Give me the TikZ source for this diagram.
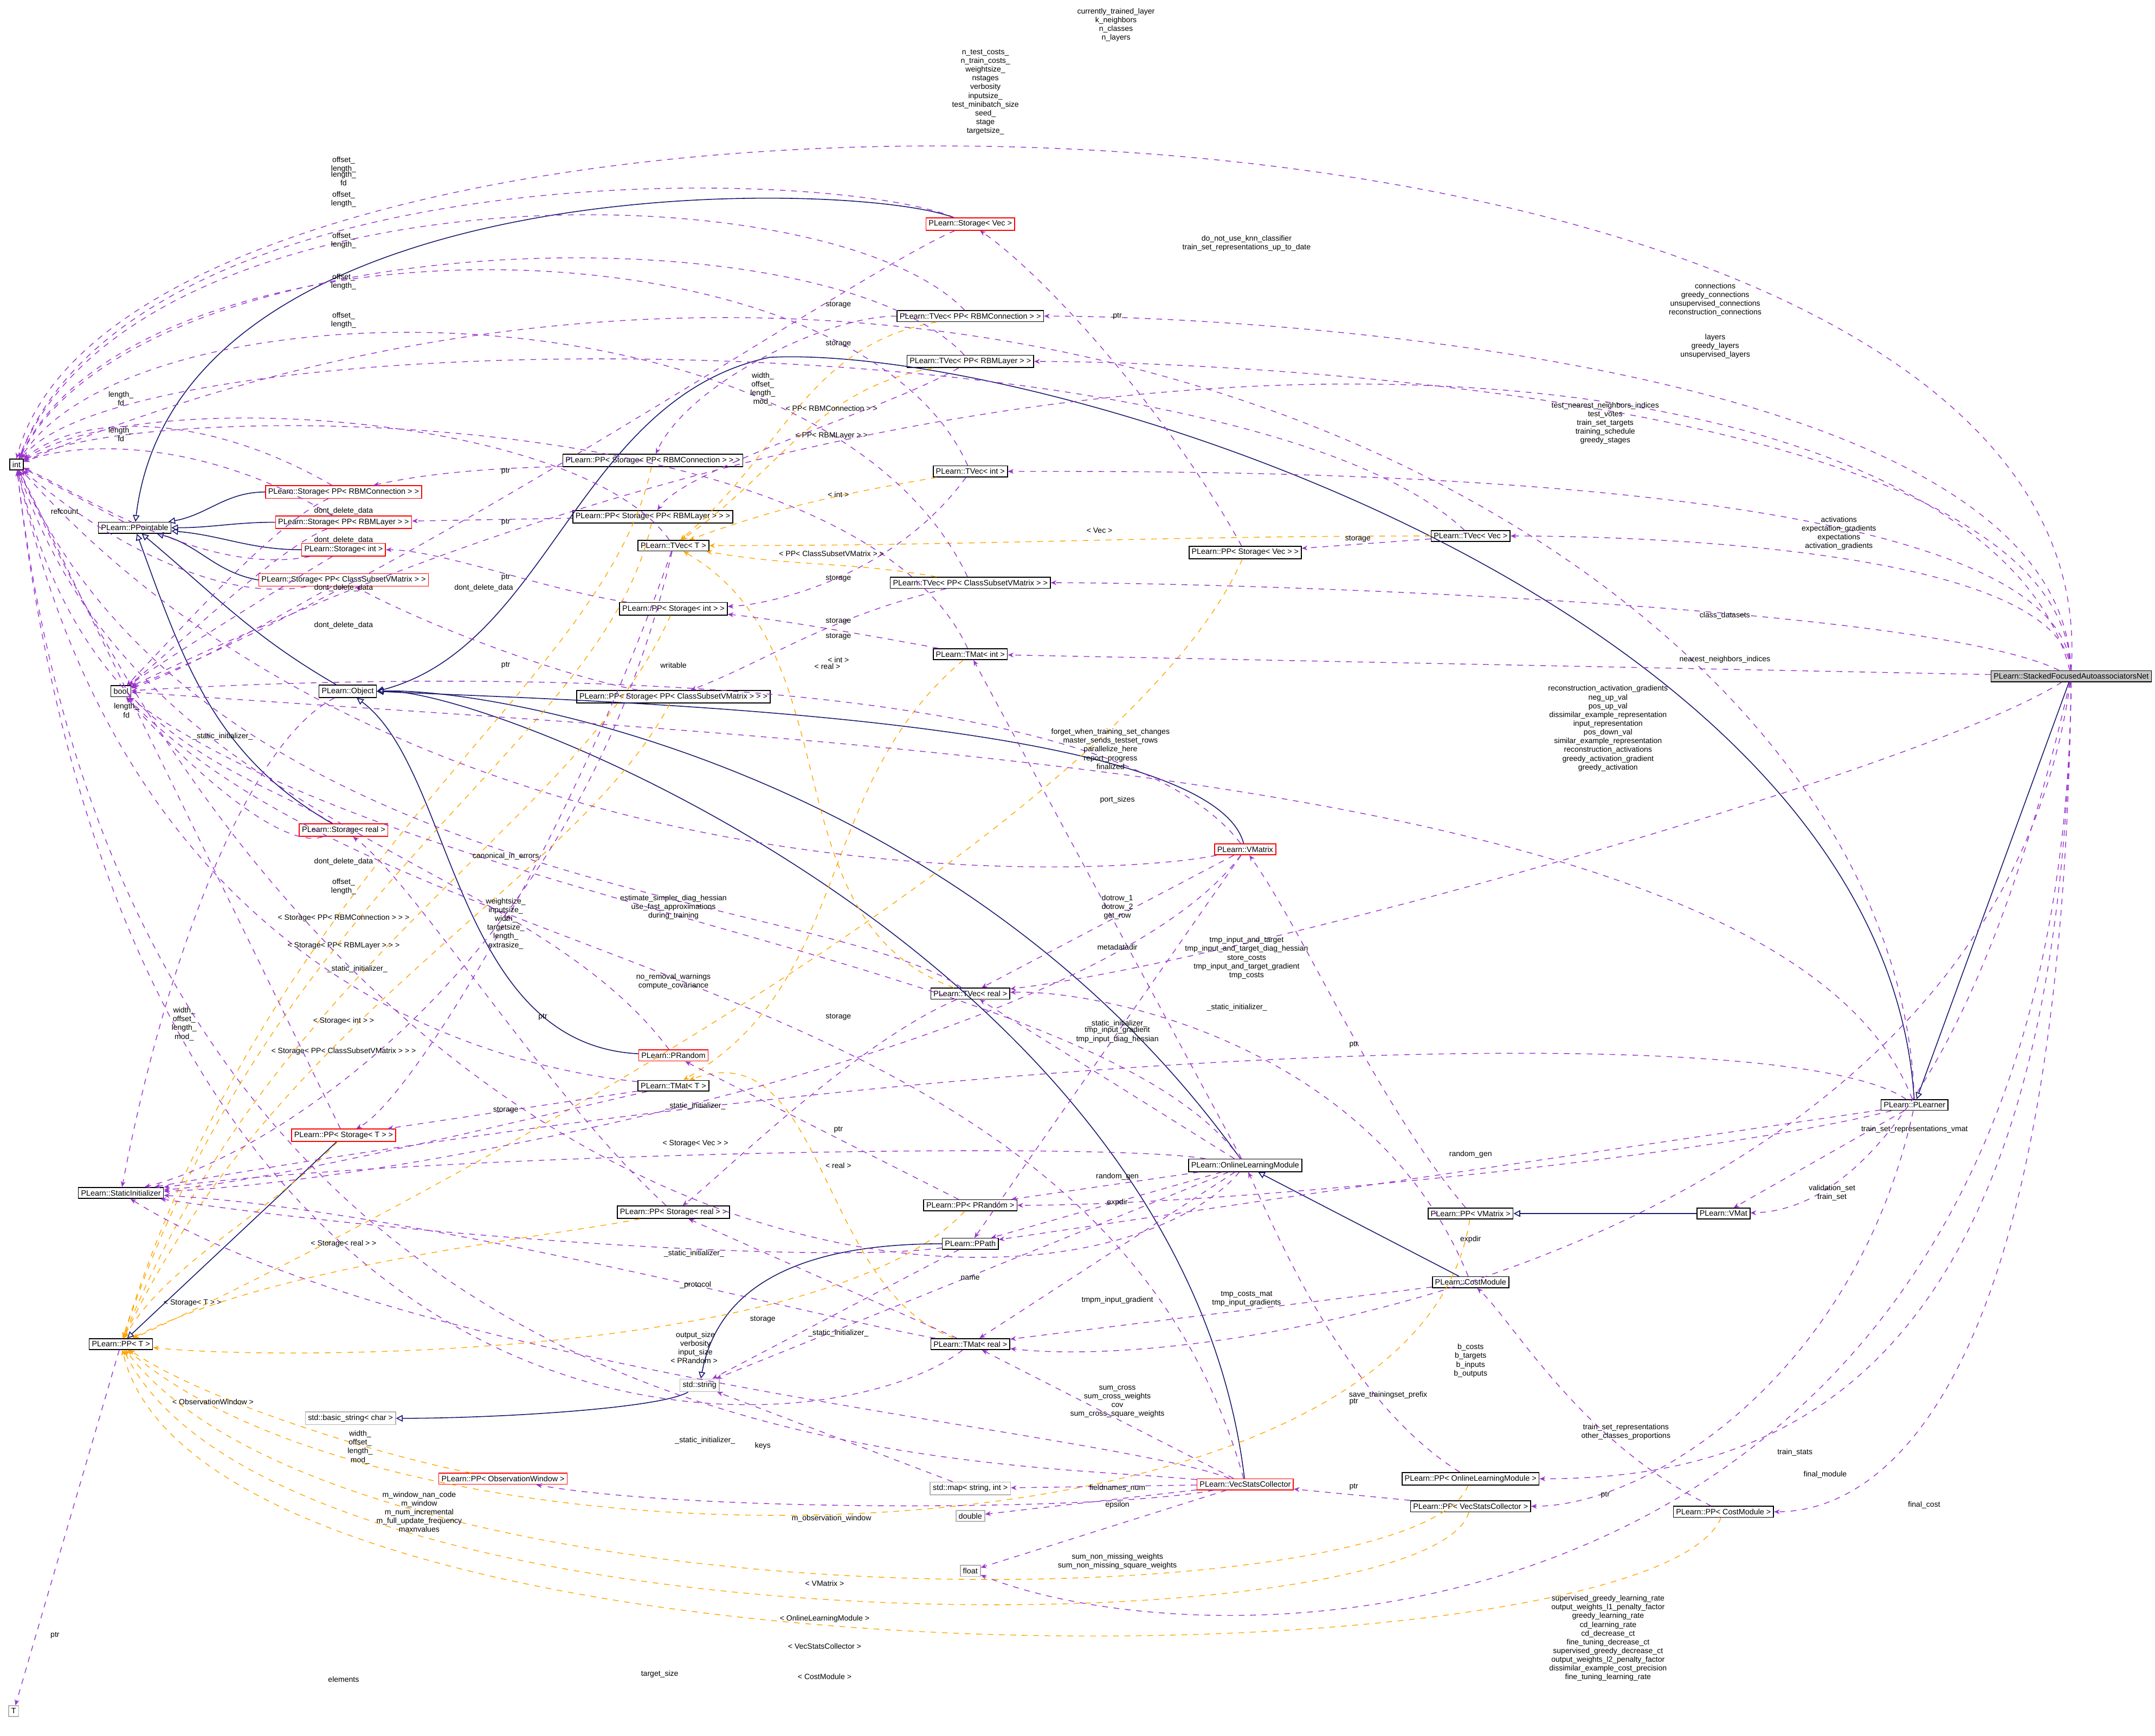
\documentclass[tikz,border=0pt]{standalone}
\usepackage{fontspec}
\setmainfont{Liberation Sans}
\usetikzlibrary{arrows.meta}
\definecolor{pu}{HTML}{9A32CD}
\definecolor{orr}{HTML}{FFA500}
\definecolor{bl}{HTML}{191970}
\newcounter{lc}
\newcommand\LB[2]{\stepcounter{lc}\node[lab] (lab\arabic{lc}) at (#1) {#2};}
\begin{document}
\begin{tikzpicture}[x=0.0254cm,y=-0.0254cm,
 box/.style={draw=black,fill=white,line width=0.45pt,inner sep=1.4pt,font=\fontsize{4.1}{4.6}\selectfont},
 rbox/.style={box,draw=red},
 gbox/.style={box,draw=gray!60},
 use/.style={draw=pu,dashed,line width=0.4pt,-{Stealth[length=3pt,width=2.5pt]}},
 tmpl/.style={draw=orr,dashed,line width=0.4pt,-{Stealth[length=3pt,width=2.5pt]}},
 inh/.style={draw=bl,line width=0.45pt,-{Triangle[open,length=3.5pt,width=3.5pt]}},
 lab/.style={font=\fontsize{4.0}{4.6}\selectfont,align=center,inner sep=0pt}]
\useasboundingbox (0,0) rectangle (1568,1263);
% nodes
\node[box] (int) at (12,338) {int};
\node[box] (bool) at (88,503) {bool};
\node[box] (ppt) at (98,384) {PLearn::PPointable};
\node[box] (obj) at (253,503) {PLearn::Object};
\node[box] (si) at (88,868) {PLearn::StaticInitializer};
\node[box] (ppT) at (88,978) {PLearn::PP< T >};
\node[gbox] (T) at (10,1245) {T};
\node[gbox] (bstr) at (255,1032) {std::basic\_string< char >};
\node[gbox] (str) at (509,1008) {std::string};
\node[rbox] (stVec) at (706,163) {PLearn::Storage< Vec >};
\node[box] (tvRC) at (706,230) {PLearn::TVec< PP< RBMConnection > >};
\node[box] (tvRL) at (706,263) {PLearn::TVec< PP< RBMLayer > >};
\node[box] (ppsRC) at (475,335) {PLearn::PP< Storage< PP< RBMConnection > > >};
\node[rbox] (stRC) at (250,358) {PLearn::Storage< PP< RBMConnection > >};
\node[box] (ppsRL) at (475,376) {PLearn::PP< Storage< PP< RBMLayer > > >};
\node[rbox] (stRL) at (250,380) {PLearn::Storage< PP< RBMLayer > >};
\node[box] (tvInt) at (706,343) {PLearn::TVec< int >};
\node[box] (tvT) at (490,397) {PLearn::TVec< T >};
\node[rbox] (stInt) at (250,400) {PLearn::Storage< int >};
\node[rbox] (stCS) at (250,422) {PLearn::Storage< PP< ClassSubsetVMatrix > >};
\node[box] (ppsInt) at (490,443) {PLearn::PP< Storage< int > >};
\node[box] (tvCS) at (706,424) {PLearn::TVec< PP< ClassSubsetVMatrix > >};
\node[box] (tvVec) at (1070,390) {PLearn::TVec< Vec >};
\node[box] (ppsVec) at (906,402) {PLearn::PP< Storage< Vec > >};
\node[box] (tmInt) at (706,476) {PLearn::TMat< int >};
\node[box] (ppsCS) at (490,507) {PLearn::PP< Storage< PP< ClassSubsetVMatrix > > >};
\node[box,fill=gray!45] (sfan) at (1507,492) {PLearn::StackedFocusedAutoassociatorsNet};
\node[rbox] (vmx) at (906,618) {PLearn::VMatrix};
\node[rbox] (stReal) at (250,604) {PLearn::Storage< real >};
\node[box] (tvReal) at (706,723) {PLearn::TVec< real >};
\node[rbox] (prand) at (490,768) {PLearn::PRandom};
\node[box] (tmT) at (490,790) {PLearn::TMat< T >};
\node[rbox] (ppsT) at (250,826) {PLearn::PP< Storage< T > >};
\node[box] (plr) at (1393,804) {PLearn::PLearner};
\node[box] (olm) at (906,848) {PLearn::OnlineLearningModule};
\node[box] (ppPR) at (706,877) {PLearn::PP< PRandom >};
\node[box] (ppsReal) at (490,882) {PLearn::PP< Storage< real > >};
\node[box] (ppVM) at (1070,883) {PLearn::PP< VMatrix >};
\node[box] (vmat) at (1254,883) {PLearn::VMat};
\node[box] (ppath) at (706,905) {PLearn::PPath};
\node[box] (cm) at (1070,933) {PLearn::CostModule};
\node[box] (tmReal) at (706,978) {PLearn::TMat< real >};
\node[rbox] (ppOW) at (366,1076) {PLearn::PP< ObservationWindow >};
\node[gbox] (smap) at (706,1083) {std::map< string, int >};
\node[rbox] (vsc) at (906,1080) {PLearn::VecStatsCollector};
\node[gbox] (dbl) at (706,1103) {double};
\node[box] (ppOLM) at (1070,1076) {PLearn::PP< OnlineLearningModule >};
\node[box] (ppVSC) at (1070,1096) {PLearn::PP< VecStatsCollector >};
\node[box] (ppCM) at (1254,1100) {PLearn::PP< CostModule >};
\node[gbox] (flt) at (706,1143) {float};

% inheritance
\draw[inh] (ppsT) -- (ppT);
\draw[inh] (stRC.west) to[out=180,in=10] (ppt);
\draw[inh] (stRL.west) to[out=180,in=0] (ppt);
\draw[inh] (stInt.west) to[out=180,in=-5] (ppt);
\draw[inh] (stCS.west) to[out=170,in=-15] (ppt);
\draw[inh] (obj) to[out=150,in=-40] (ppt);
\draw[inh] (stReal) to[out=150,in=-70] (ppt);
\draw[inh] (stVec) .. controls (620,130) and (130,120) .. (ppt);
\draw[inh] (prand) .. controls (330,760) and (330,560) .. (obj);
\draw[inh] (vmx) .. controls (880,520) and (420,510) .. (obj.east);
\draw[inh] (olm) .. controls (700,560) and (360,500) .. (obj.east);
\draw[inh] (vsc) .. controls (860,700) and (360,500) .. (obj.east);
\draw[inh] (plr) .. controls (1370,440) and (760,250) .. (560,260) .. controls (420,290) and (400,470) .. (obj.east);
\draw[inh] (sfan) -- (plr);
\draw[inh] (cm) -- (olm);
\draw[inh] (vmat) -- (ppVM);
\draw[inh] (ppath) .. controls (560,905) and (520,950) .. (str);
\draw[inh] (str) .. controls (480,1025) and (360,1032) .. (bstr);

% template instantiation
\draw[tmpl] (tvRC) to[out=190,in=40] (tvT);
\draw[tmpl] (tvRL) to[out=190,in=35] (tvT);
\draw[tmpl] (tvInt) to[out=190,in=20] (tvT);
\draw[tmpl] (tvVec) to[out=180,in=0] (tvT);
\draw[tmpl] (tvCS) to[out=170,in=-10] (tvT);
\draw[tmpl] (tvReal) to[out=160,in=-30] (tvT);
\draw[tmpl] (tmInt) to[out=220,in=30] (tmT);
\draw[tmpl] (tmReal) to[out=160,in=20] (tmT);
\draw[tmpl] (ppsRC) .. controls (440,500) and (200,620) .. (ppT);
\draw[tmpl] (ppsRL) .. controls (440,540) and (200,640) .. (ppT);
\draw[tmpl] (ppsInt) .. controls (420,600) and (200,700) .. (ppT);
\draw[tmpl] (ppsCS) .. controls (420,640) and (200,740) .. (ppT);
\draw[tmpl] (ppsVec) .. controls (820,600) and (300,880) .. (ppT);
\draw[tmpl] (ppsReal) .. controls (400,900) and (200,920) .. (ppT);
\draw[tmpl] (ppsT) .. controls (200,880) and (120,920) .. (ppT);
\draw[tmpl] (ppPR) .. controls (600,990) and (200,990) .. (ppT);
\draw[tmpl] (ppOW) .. controls (280,1060) and (150,1020) .. (ppT);
\draw[tmpl] (ppVM) .. controls (1030,1150) and (300,1160) .. (ppT);
\draw[tmpl] (ppOLM) .. controls (1030,1180) and (250,1190) .. (ppT);
\draw[tmpl] (ppVSC) .. controls (1040,1200) and (200,1210) .. (ppT);
\draw[tmpl] (ppCM) .. controls (1200,1230) and (150,1240) .. (ppT);

% uses from SFAN
\draw[use] (sfan.north) .. controls (1540,20) and (100,0) .. (int.north);
\draw[use] (sfan) .. controls (1450,260) and (800,160) .. (bool);
\draw[use] (sfan) .. controls (1500,260) and (900,230) .. (tvRC);
\draw[use] (sfan) .. controls (1500,290) and (900,263) .. (tvRL);
\draw[use] (sfan) .. controls (1500,340) and (900,343) .. (tvInt);
\draw[use] (sfan) .. controls (1500,400) and (1200,390) .. (tvVec);
\draw[use] (sfan) .. controls (1400,440) and (900,424) .. (tvCS);
\draw[use] (sfan) -- (tmInt);
\draw[use] (sfan) .. controls (1400,560) and (900,700) .. (tvReal);
\draw[use] (sfan) .. controls (1460,700) and (1380,880) .. (vmat);
\draw[use] (sfan) .. controls (1450,900) and (900,1000) .. (tmReal);
\draw[use] (sfan) .. controls (1500,1000) and (1300,1076) .. (ppOLM);
\draw[use] (sfan) .. controls (1500,1050) and (1350,1100) .. (ppCM);
\draw[use] (sfan) .. controls (1500,1200) and (900,1220) .. (flt);
% uses from PLearner
\draw[use] (plr) .. controls (1380,400) and (700,50) .. (int);
\draw[use] (plr) .. controls (1300,560) and (600,540) .. (bool);
\draw[use] (plr) -- (ppath);
\draw[use] (plr) .. controls (1250,840) and (900,877) .. (ppPR);
\draw[use] (plr) .. controls (1300,740) and (700,760) .. (si);
\draw[use] (plr) -- (vmat);
\draw[use] (plr) .. controls (1350,1000) and (1200,1096) .. (ppVSC);
% VMatrix
\draw[use] (vmx) .. controls (800,640) and (300,660) .. (int);
\draw[use] (vmx) .. controls (800,480) and (300,490) .. (bool);
\draw[use] (vmx) -- (tvReal);
\draw[use] (vmx) -- (ppath);
\draw[use] (vmx) .. controls (800,760) and (300,860) .. (si);
% OnlineLearningModule
\draw[use] (olm) .. controls (800,700) and (300,660) .. (bool);
\draw[use] (olm) .. controls (800,970) and (300,980) .. (int);
\draw[use] (olm) -- (ppPR);
\draw[use] (olm) -- (ppath);
\draw[use] (olm) -- (str);
\draw[use] (olm) -- (tmInt);
\draw[use] (olm) -- (tvReal);
\draw[use] (olm) -- (tmReal);
\draw[use] (olm) .. controls (800,830) and (300,840) .. (si);
% CostModule
\draw[use] (cm) -- (tmReal);
\draw[use] (cm) .. controls (1000,760) and (800,720) .. (tvReal);
% VecStatsCollector
\draw[use] (vsc) -- (tmReal);
\draw[use] (vsc) -- (smap);
\draw[use] (vsc) -- (dbl);
\draw[use] (vsc) -- (flt);
\draw[use] (vsc) .. controls (800,1100) and (500,1100) .. (ppOW);
\draw[use] (vsc) .. controls (700,1060) and (100,1080) .. (int);
\draw[use] (vsc) .. controls (800,700) and (300,720) .. (bool);
\draw[use] (vsc) .. controls (800,1040) and (300,1000) .. (si);
% PP ptrs
\draw[use] (ppVM) .. controls (1000,800) and (950,680) .. (vmx);
\draw[use] (ppOLM) .. controls (980,1020) and (930,900) .. (olm);
\draw[use] (ppVSC) -- (vsc);
\draw[use] (ppCM) .. controls (1150,1050) and (1100,960) .. (cm);
\draw[use] (ppPR) -- (prand);
\draw[use] (ppT) -- (T);
% PPath, string, map
\draw[use] (ppath) -- (str);
\draw[use] (ppath) .. controls (600,920) and (300,900) .. (si);
\draw[use] (smap) -- (str);
% TMat/TVec real
\draw[use] (tmReal) -- (ppsReal);
\draw[use] (tmReal) .. controls (600,960) and (300,880) .. (si);
\draw[use] (tmReal) .. controls (600,1060) and (100,1100) .. (int);
\draw[use] (tvReal) .. controls (620,760) and (520,860) .. (ppsReal);
\draw[use] (tvReal) .. controls (600,650) and (150,650) .. (int);
\draw[use] (ppsReal) .. controls (400,800) and (300,640) .. (stReal);
\draw[use] (stReal) .. controls (180,560) and (60,540) .. (int);
\draw[use] (stReal) .. controls (200,620) and (120,540) .. (bool);
% TMat<T>, TVec<T>
\draw[use] (tmT) -- (ppsT);
\draw[use] (tmT) .. controls (400,780) and (100,740) .. (int);
\draw[use] (tmT) .. controls (400,810) and (200,860) .. (si);
\draw[use] (tvT) .. controls (420,600) and (300,800) .. (ppsT);
\draw[use] (tvT) .. controls (420,300) and (100,280) .. (int);
\draw[use] (tvT) .. controls (420,700) and (200,840) .. (si);
\draw[use] (ppsT) -- (int);
% int storages
\draw[use] (tvInt) .. controls (650,420) and (560,440) .. (ppsInt);
\draw[use] (tvInt) .. controls (620,150) and (100,150) .. (int);
\draw[use] (tmInt) .. controls (620,460) and (560,450) .. (ppsInt);
\draw[use] (tmInt) .. controls (620,290) and (100,290) .. (int);
\draw[use] (ppsInt) .. controls (400,430) and (320,400) .. (stInt);
\draw[use] (stInt) .. controls (150,420) and (60,360) .. (int);
\draw[use] (stInt) .. controls (200,430) and (120,480) .. (bool);
% RBM
\draw[use] (tvRC) .. controls (600,230) and (500,280) .. (ppsRC);
\draw[use] (tvRC) .. controls (600,120) and (100,120) .. (int);
\draw[use] (tvRL) .. controls (640,300) and (500,340) .. (ppsRL);
\draw[use] (tvRL) .. controls (600,150) and (100,160) .. (int);
\draw[use] (ppsRC) .. controls (400,340) and (330,340) .. (stRC);
\draw[use] (ppsRL) -- (stRL);
\draw[use] (stRC) .. controls (150,300) and (60,300) .. (int);
\draw[use] (stRL) .. controls (150,320) and (60,320) .. (int);
\draw[use] (stRC) .. controls (200,380) and (130,460) .. (bool);
\draw[use] (stRL) .. controls (200,400) and (130,470) .. (bool);
% ClassSubset
\draw[use] (tvCS) .. controls (600,450) and (560,480) .. (ppsCS);
\draw[use] (tvCS) .. controls (600,200) and (100,200) .. (int);
\draw[use] (ppsCS) .. controls (400,490) and (300,450) .. (stCS);
\draw[use] (stCS) .. controls (150,440) and (60,380) .. (int);
\draw[use] (stCS) .. controls (200,450) and (130,490) .. (bool);
% Vec
\draw[use] (tvVec) -- (ppsVec);
\draw[use] (tvVec) .. controls (900,230) and (100,230) .. (int);
\draw[use] (ppsVec) .. controls (850,300) and (760,200) .. (stVec);
\draw[use] (stVec) .. controls (600,120) and (100,110) .. (int);
\draw[use] (stVec) .. controls (620,200) and (300,420) .. (bool);
% base
\draw[use] (ppt) -- (int);
\draw[use] (obj) .. controls (180,540) and (120,700) .. (si);
\draw[use] (prand) .. controls (380,620) and (100,600) .. (int);

% labels
\LB{812,18}{currently\_trained\_layer\\k\_neighbors\\n\_classes\\n\_layers}
\LB{717,67}{n\_test\_costs\_\\n\_train\_costs\_\\weightsize\_\\nstages\\verbosity\\inputsize\_\\test\_minibatch\_size\\seed\_\\stage\\targetsize\_}
\LB{907,177}{do\_not\_use\_knn\_classifier\\train\_set\_representations\_up\_to\_date}
\LB{1248,218}{connections\\greedy\_connections\\unsupervised\_connections\\reconstruction\_connections}
\LB{1248,252}{layers\\greedy\_layers\\unsupervised\_layers}
\LB{1168,308}{test\_nearest\_neighbors\_indices\\test\_votes\\train\_set\_targets\\training\_schedule\\greedy\_stages}
\LB{1338,388}{activations\\expectation\_gradients\\expectations\\activation\_gradients}
\LB{1255,448}{class\_datasets}
\LB{1255,480}{nearest\_neighbors\_indices}
\LB{1170,530}{reconstruction\_activation\_gradients\\neg\_up\_val\\pos\_up\_val\\dissimilar\_example\_representation\\input\_representation\\pos\_down\_val\\similar\_example\_representation\\reconstruction\_activations\\greedy\_activation\_gradient\\greedy\_activation}
\LB{808,545}{forget\_when\_training\_set\_changes\\master\_sends\_testset\_rows\\parallelize\_here\\report\_progress\\finalized}
\LB{1393,822}{train\_set\_representations\_vmat}
\LB{1333,868}{validation\_set\\train\_set}
\LB{1070,902}{expdir}
\LB{1070,840}{random\_gen}
\LB{900,733}{\_static\_initializer\_}
\LB{1306,1057}{train\_stats}
\LB{1183,1042}{train\_set\_representations\\other\_classes\_proportions}
\LB{1328,1073}{final\_module}
\LB{1400,1095}{final\_cost}
\LB{1170,1192}{supervised\_greedy\_learning\_rate\\output\_weights\_l1\_penalty\_factor\\greedy\_learning\_rate\\cd\_learning\_rate\\cd\_decrease\_ct\\fine\_tuning\_decrease\_ct\\supervised\_greedy\_decrease\_ct\\output\_weights\_l2\_penalty\_factor\\dissimilar\_example\_cost\_precision\\fine\_tuning\_learning\_rate}
\LB{1070,990}{b\_costs\\b\_targets\\b\_inputs\\b\_outputs}
\LB{813,582}{port\_sizes}
\LB{813,660}{dotrow\_1\\dotrow\_2\\get\_row}
\LB{813,689}{metadatadir}
\LB{907,697}{tmp\_input\_and\_target\\tmp\_input\_and\_target\_diag\_hessian\\store\_costs\\tmp\_input\_and\_target\_gradient\\tmp\_costs}
\LB{813,753}{tmp\_input\_gradient\\tmp\_input\_diag\_hessian}
\LB{813,745}{\_static\_initializer\_}
\LB{813,856}{random\_gen}
\LB{813,875}{expdir}
\LB{706,930}{name}
\LB{907,945}{tmp\_costs\_mat\\tmp\_input\_gradients}
\LB{813,946}{tmpm\_input\_gradient}
\LB{813,1020}{sum\_cross\\sum\_cross\_weights\\cov\\sum\_cross\_square\_weights}
\LB{813,1083}{fieldnames\_num}
\LB{813,1095}{epsilon}
\LB{813,1136}{sum\_non\_missing\_weights\\sum\_non\_missing\_square\_weights}
\LB{305,1100}{m\_window\_nan\_code\\m\_window\\m\_num\_incremental\\m\_full\_update\_frequency\\maxnvalues}
\LB{605,1105}{m\_observation\_window}
\LB{262,1053}{width\_\\offset\_\\length\_\\mod\_}
\LB{490,714}{no\_removal\_warnings\\compute\_covariance}
\LB{513,1048}{\_static\_initializer\_}
\LB{490,660}{estimate\_simpler\_diag\_hessian\\use\_fast\_approximations\\during\_training}
\LB{506,978}{output\_size\\verbosity\\input\_size}
\LB{368,672}{weightsize\_\\inputsize\_\\width\_\\targetsize\_\\length\_\\extrasize\_}
\LB{368,623}{canonical\_in\_errors}
\LB{490,484}{writable}
\LB{985,1020}{ptr}
\LB{985,1082}{ptr}
\LB{1168,1088}{ptr}
\LB{985,760}{ptr}
\LB{610,822}{ptr}
\LB{40,1190}{ptr}
\LB{600,1152}{< VMatrix >}
\LB{600,1178}{< OnlineLearningModule >}
\LB{600,1198}{< VecStatsCollector >}
\LB{600,1220}{< CostModule >}
\LB{505,990}{< PRandom >}
\LB{155,1020}{< ObservationWindow >}
\LB{506,935}{\_protocol}
\LB{505,912}{\_static\_initializer\_}
\LB{555,1052}{keys}
\LB{555,960}{storage}
\LB{610,848}{< real >}
\LB{610,970}{\_static\_initializer\_}
\LB{610,740}{storage}
\LB{250,645}{offset\_\\length\_}
\LB{602,485}{< real >}
\LB{395,740}{ptr}
\LB{250,905}{< Storage< real > >}
\LB{92,517}{length\_\\fd}
\LB{250,627}{dont\_delete\_data}
\LB{368,808}{storage}
\LB{134,745}{width\_\\offset\_\\length\_\\mod\_}
\LB{506,805}{\_static\_initializer\_}
\LB{140,948}{< Storage< T > >}
\LB{260,705}{\_static\_initializer\_}
\LB{610,421}{storage}
\LB{610,360}{< int >}
\LB{250,145}{offset\_\\length\_}
\LB{368,420}{ptr}
\LB{250,743}{< Storage< int > >}
\LB{250,428}{dont\_delete\_data}
\LB{610,463}{storage}
\LB{610,480}{< int >}
\LB{555,283}{width\_\\offset\_\\length\_\\mod\_}
\LB{610,222}{storage}
\LB{605,297}{< PP< RBMConnection > >}
\LB{250,120}{offset\_\\length\_}
\LB{368,343}{ptr}
\LB{250,668}{< Storage< PP< RBMConnection > > >}
\LB{88,290}{length\_\\fd}
\LB{250,372}{dont\_delete\_data}
\LB{610,250}{storage}
\LB{605,317}{< PP< RBMLayer > >}
\LB{250,175}{offset\_\\length\_}
\LB{368,380}{ptr}
\LB{250,688}{< Storage< PP< RBMLayer > > >}
\LB{88,316}{length\_\\fd}
\LB{250,393}{dont\_delete\_data}
\LB{610,452}{storage}
\LB{605,403}{< PP< ClassSubsetVMatrix > >}
\LB{250,205}{offset\_\\length\_}
\LB{368,484}{ptr}
\LB{250,765}{< Storage< PP< ClassSubsetVMatrix > > >}
\LB{250,455}{dont\_delete\_data}
\LB{988,392}{storage}
\LB{800,386}{< Vec >}
\LB{250,233}{offset\_\\length\_}
\LB{813,230}{ptr}
\LB{506,832}{< Storage< Vec > >}
\LB{250,130}{length\_\\fd}
\LB{352,428}{dont\_delete\_data}
\LB{47,372}{refcount}
\LB{162,536}{\_static\_initializer\_}
\LB{250,1222}{elements}
\LB{480,1218}{target\_size}
\LB{1010,1015}{save\_trainingset\_prefix}
\end{tikzpicture}
\end{document}
